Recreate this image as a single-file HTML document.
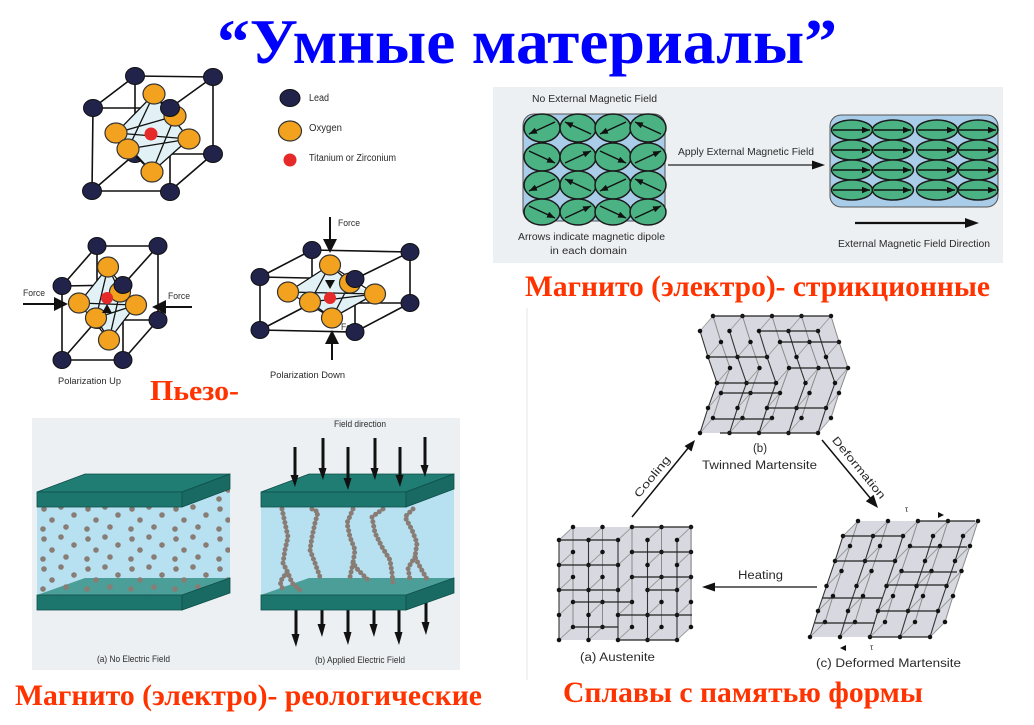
<!DOCTYPE html>
<html><head><meta charset="utf-8">
<style>
html,body{margin:0;padding:0;background:#fff;width:1034px;height:725px;overflow:hidden;}
svg{display:block;}
.s{font-family:"Liberation Sans",sans-serif;fill:#2a2a2a;}
.r{font-family:"Liberation Serif","Noto Serif CJK SC",serif;font-weight:bold;fill:#ff3300;}
</style></head><body>
<svg width="1034" height="725" viewBox="0 0 1034 725" xmlns="http://www.w3.org/2000/svg" xmlns:xlink="http://www.w3.org/1999/xlink">
<defs>
<marker id="m" viewBox="0 0 10 8" refX="10" refY="4" markerWidth="8" markerHeight="6.5" markerUnits="userSpaceOnUse" orient="auto"><path d="M0 0L10 4L0 8Z" fill="#111"/></marker>
<pattern id="dp" patternUnits="userSpaceOnUse" x="37" y="503" width="44" height="30">
<g fill="#887c74"><circle cx="7" cy="6" r="2.8"/><circle cx="24" cy="4" r="2.8"/><circle cx="37" cy="12" r="2.8"/><circle cx="15" cy="17" r="2.8"/><circle cx="29" cy="24" r="2.8"/><circle cx="6" cy="26" r="2.8"/></g></pattern>
<!-- twinned martensite column -->
<path id="tcol" d="M700 331L708 357L717 383L708 408L700 433" fill="none"/>
<path id="tcon" d="M700 331l13-15M708 357l13-15M717 383l13-15M708 408l13-15M700 433l13-15" fill="none"/>
<path id="tdot" d="M700 331h0M708 357h0M717 383h0M708 408h0M700 433h0" fill="none" stroke-width="4.5" stroke-linecap="round"/>
<g id="tg">
<use xlink:href="#tcol" transform="translate(13,-15)" stroke="#8a8a8a" stroke-width="1"/>
<use xlink:href="#tcon" stroke="#999" stroke-width="0.9"/>
<use xlink:href="#tcol" stroke="#333" stroke-width="1.1"/>
<use xlink:href="#tdot" transform="translate(13,-15)" stroke="#111"/>
<use xlink:href="#tdot" stroke="#111"/>
</g>
<!-- austenite column -->
<path id="acol" d="M559 540V640" fill="none"/>
<path id="acon" d="M559 540l14-13M559 565l14-13M559 590l14-13M559 615l14-13M559 640l14-13" fill="none"/>
<path id="adot" d="M559 540h0M559 565h0M559 590h0M559 615h0M559 640h0" fill="none" stroke-width="4.5" stroke-linecap="round"/>
<g id="ag">
<use xlink:href="#acol" transform="translate(14,-13)" stroke="#8a8a8a" stroke-width="1"/>
<use xlink:href="#acon" stroke="#999" stroke-width="0.9"/>
<use xlink:href="#acol" stroke="#333" stroke-width="1.1"/>
<use xlink:href="#adot" transform="translate(14,-13)" stroke="#111"/>
<use xlink:href="#adot" stroke="#111"/>
</g>
<!-- deformed martensite column -->
<path id="dcol" d="M843 536L835 561L826.5 586L818 611L810 637" fill="none"/>
<path id="dcon" d="M843 536l15-15M835 561l15-15M826.5 586l15-15M818 611l15-15M810 637l15-15" fill="none"/>
<path id="ddot" d="M843 536h0M835 561h0M826.5 586h0M818 611h0M810 637h0" fill="none" stroke-width="4.5" stroke-linecap="round"/>
<g id="dg">
<use xlink:href="#dcol" transform="translate(15,-15)" stroke="#8a8a8a" stroke-width="1"/>
<use xlink:href="#dcon" stroke="#999" stroke-width="0.9"/>
<use xlink:href="#dcol" stroke="#333" stroke-width="1.1"/>
<use xlink:href="#ddot" transform="translate(15,-15)" stroke="#111"/>
<use xlink:href="#ddot" stroke="#111"/>
</g>
</defs>

<rect width="1034" height="725" fill="#fff"/>

<!-- Title -->
<text x="217" y="63" font-family="Liberation Serif, serif" font-weight="bold" font-size="64" fill="#0000ff" textLength="620" lengthAdjust="spacingAndGlyphs">“Умные материалы”</text>

<!-- ================= Top perovskite cube ================= -->
<g stroke="#111" stroke-width="1.6" fill="none">
<path d="M135 76L213 77L213 154L135 154Z M93 108L170 108L170 191L92 191Z M93 108L135 76 M170 108L213 77 M170 191L213 154 M92 191L135 154"/>
</g>
<ellipse cx="213" cy="154" rx="9.5" ry="8.5" fill="#22234b" stroke="#111"/>
<ellipse cx="135" cy="76" rx="9.5" ry="8.5" fill="#22234b" stroke="#111"/>
<ellipse cx="213" cy="77" rx="9.5" ry="8.5" fill="#22234b" stroke="#111"/>
<ellipse cx="135" cy="154" rx="9.5" ry="8.5" fill="#22234b" stroke="#111"/>
<polygon points="154,94 175,116 189,139 152,172 128,149 116,133" fill="#e1f1f5"/>
<path d="M154 94L116 133M154 94L189 139M154 94L128 149M154 94L175 116M152 172L116 133M152 172L189 139M152 172L128 149M152 172L175 116M116 133L189 139M116 133L175 116M128 149L189 139" stroke="#111" stroke-width="1.3" fill="none"/>
<g fill="#f2a21e" stroke="#333" stroke-width="1.2">
<ellipse cx="175" cy="116" rx="11" ry="10"/>
<ellipse cx="154" cy="94" rx="11" ry="10"/>
<ellipse cx="189" cy="139" rx="11" ry="10"/>
<ellipse cx="116" cy="133" rx="11" ry="10"/>
<ellipse cx="152" cy="172" rx="11" ry="10"/>
</g>
<circle cx="151" cy="134" r="6.5" fill="#e62a2a"/>
<ellipse cx="128" cy="149" rx="11" ry="10" fill="#f2a21e" stroke="#333" stroke-width="1.2"/>
<g fill="#22234b" stroke="#111">
<ellipse cx="93" cy="108" rx="9.5" ry="8.5"/>
<ellipse cx="170" cy="108" rx="9.5" ry="8.5"/>
<ellipse cx="92" cy="191" rx="9.5" ry="8.5"/>
<ellipse cx="170" cy="192" rx="9.5" ry="8.5"/>
</g>
<!-- legend -->
<ellipse cx="290" cy="98" rx="10" ry="8.5" fill="#22234b" stroke="#111"/>
<ellipse cx="290" cy="131" rx="11.5" ry="10" fill="#f2a21e" stroke="#333" stroke-width="1.2"/>
<circle cx="290" cy="160" r="6.5" fill="#e62a2a"/>
<text class="s" x="309" y="101" font-size="10" textLength="20" lengthAdjust="spacingAndGlyphs">Lead</text>
<text class="s" x="309" y="131" font-size="10" textLength="33" lengthAdjust="spacingAndGlyphs">Oxygen</text>
<text class="s" x="309" y="161" font-size="10" textLength="87" lengthAdjust="spacingAndGlyphs">Titanium or Zirconium</text>

<!-- ================= Left piezo cube (Polarization Up) ================= -->
<path d="M97 246L158 246L158 320L97 320Z M62 286L123 285L123 360L62 360Z M62 286L97 246 M123 285L158 246 M123 360L158 320 M62 360L97 320" stroke="#111" stroke-width="1.6" fill="none"/>
<g fill="#22234b" stroke="#111">
<ellipse cx="97" cy="246" rx="9" ry="8.5"/><ellipse cx="158" cy="246" rx="9" ry="8.5"/><ellipse cx="158" cy="320" rx="9" ry="8.5"/><ellipse cx="97" cy="320" rx="9" ry="8.5"/>
</g>
<polygon points="108,267 120,292 136,305 109,340 96,318 79,303" fill="#e1f1f5"/>
<path d="M108 267L79 303M108 267L136 305M108 267L96 318M108 267L120 292M109 340L79 303M109 340L136 305M109 340L96 318M109 340L120 292M79 303L136 305M96 318L136 305" stroke="#111" stroke-width="1.3" fill="none"/>
<g fill="#f2a21e" stroke="#333" stroke-width="1.2">
<ellipse cx="120" cy="292" rx="10.5" ry="10"/><ellipse cx="108" cy="267" rx="10.5" ry="10"/><ellipse cx="136" cy="305" rx="10.5" ry="10"/><ellipse cx="79" cy="303" rx="10.5" ry="10"/><ellipse cx="109" cy="340" rx="10.5" ry="10"/>
</g>
<circle cx="107" cy="298" r="6" fill="#e62a2a"/>
<ellipse cx="96" cy="318" rx="10.5" ry="10" fill="#f2a21e" stroke="#333" stroke-width="1.2"/>
<polygon points="107,304 102,313 112,313" fill="#111"/>
<g fill="#22234b" stroke="#111">
<ellipse cx="62" cy="286" rx="9" ry="8.5"/><ellipse cx="123" cy="285" rx="9" ry="8.5"/><ellipse cx="62" cy="360" rx="9" ry="8.5"/><ellipse cx="123" cy="360" rx="9" ry="8.5"/>
</g>
<line x1="23" y1="304" x2="56" y2="304" stroke="#111" stroke-width="2"/>
<polygon points="68,304 54,297 54,311" fill="#111"/>
<line x1="192" y1="307" x2="164" y2="307" stroke="#111" stroke-width="2"/>
<polygon points="152,307 166,300 166,314" fill="#111"/>
<text class="s" x="23" y="296" font-size="9.5" textLength="22" lengthAdjust="spacingAndGlyphs">Force</text>
<text class="s" x="168" y="299" font-size="9.5" textLength="22" lengthAdjust="spacingAndGlyphs">Force</text>
<text class="s" x="58" y="384" font-size="9.5" textLength="63" lengthAdjust="spacingAndGlyphs">Polarization Up</text>

<!-- ================= Right piezo cube (Polarization Down) ================= -->
<path d="M312 250L410 252L410 303L312 303Z M260 277L355 279L355 332L260 330Z M260 277L312 250 M355 279L410 252 M355 332L410 303 M260 330L312 303" stroke="#111" stroke-width="1.6" fill="none"/>
<g fill="#22234b" stroke="#111">
<ellipse cx="312" cy="250" rx="9" ry="8.5"/><ellipse cx="410" cy="252" rx="9" ry="8.5"/><ellipse cx="312" cy="303" rx="9" ry="8.5"/>
</g>
<polygon points="330,265 350,283 375,294 332,318 310,302 288,292" fill="#e1f1f5"/>
<path d="M330 265L288 292M330 265L375 294M330 265L310 302M330 265L350 283M332 318L288 292M332 318L375 294M332 318L310 302M332 318L350 283M288 292L375 294M310 302L375 294" stroke="#111" stroke-width="1.3" fill="none"/>
<g fill="#f2a21e" stroke="#333" stroke-width="1.2">
<ellipse cx="350" cy="283" rx="10.5" ry="10"/><ellipse cx="330" cy="265" rx="10.5" ry="10"/><ellipse cx="375" cy="294" rx="10.5" ry="10"/><ellipse cx="288" cy="292" rx="10.5" ry="10"/><ellipse cx="332" cy="318" rx="10.5" ry="10"/>
</g>
<circle cx="330" cy="298" r="6" fill="#e62a2a"/>
<ellipse cx="310" cy="302" rx="10.5" ry="10" fill="#f2a21e" stroke="#333" stroke-width="1.2"/>
<polygon points="325,280 335,280 330,289" fill="#111"/>
<text class="s" x="341" y="330" font-size="9.5" textLength="22" lengthAdjust="spacingAndGlyphs">Force</text>
<g fill="#22234b" stroke="#111">
<ellipse cx="260" cy="277" rx="9" ry="8.5"/><ellipse cx="355" cy="279" rx="9" ry="8.5"/><ellipse cx="410" cy="303" rx="9" ry="8.5"/><ellipse cx="260" cy="330" rx="9" ry="8.5"/><ellipse cx="355" cy="332" rx="9" ry="8.5"/>
</g>
<line x1="330" y1="217" x2="330" y2="242" stroke="#111" stroke-width="2"/>
<polygon points="330,253 323,239 337,239" fill="#111"/>
<line x1="332" y1="360" x2="332" y2="342" stroke="#111" stroke-width="2"/>
<polygon points="332,330 325,344 339,344" fill="#111"/>
<text class="s" x="338" y="226" font-size="9.5" textLength="22" lengthAdjust="spacingAndGlyphs">Force</text>
<text class="s" x="270" y="378" font-size="9.5" textLength="75" lengthAdjust="spacingAndGlyphs">Polarization Down</text>

<text class="r" x="150" y="400" font-size="28" textLength="89" lengthAdjust="spacingAndGlyphs">Пьезо-</text>

<!-- ================= Magnetostriction panel ================= -->
<rect x="493" y="87" width="510" height="176" fill="#edf0f3"/>
<text class="s" x="532" y="102" font-size="10.5" textLength="125" lengthAdjust="spacingAndGlyphs">No External Magnetic Field</text>
<rect x="523" y="114" width="142" height="107" rx="11" fill="#a9cde9" stroke="#555" stroke-width="1"/>
<g fill="#4bb283" stroke="#1b1b1b" stroke-width="1.5">
<ellipse cx="542" cy="128" rx="18" ry="14"/><ellipse cx="578" cy="128" rx="18" ry="14"/><ellipse cx="613" cy="128" rx="18" ry="14"/><ellipse cx="648" cy="128" rx="18" ry="14"/>
<ellipse cx="542" cy="157" rx="18" ry="14"/><ellipse cx="578" cy="157" rx="18" ry="14"/><ellipse cx="613" cy="157" rx="18" ry="14"/><ellipse cx="648" cy="157" rx="18" ry="14"/>
<ellipse cx="542" cy="185" rx="18" ry="14"/><ellipse cx="578" cy="185" rx="18" ry="14"/><ellipse cx="613" cy="185" rx="18" ry="14"/><ellipse cx="648" cy="185" rx="18" ry="14"/>
<ellipse cx="542" cy="212" rx="18" ry="13"/><ellipse cx="578" cy="212" rx="18" ry="13"/><ellipse cx="613" cy="212" rx="18" ry="13"/><ellipse cx="648" cy="212" rx="18" ry="13"/>
</g>
<g stroke="#111" stroke-width="1.4" marker-end="url(#m)">
<line x1="555" y1="122" x2="529" y2="134"/><line x1="591" y1="134" x2="565" y2="122"/><line x1="626" y1="122" x2="600" y2="134"/><line x1="661" y1="134" x2="635" y2="122"/>
<line x1="529" y1="151" x2="555" y2="163"/><line x1="565" y1="163" x2="591" y2="151"/><line x1="600" y1="151" x2="626" y2="163"/><line x1="635" y1="163" x2="661" y2="151"/>
<line x1="555" y1="179" x2="529" y2="191"/><line x1="591" y1="191" x2="565" y2="179"/><line x1="626" y1="179" x2="600" y2="191"/><line x1="661" y1="191" x2="635" y2="179"/>
<line x1="529" y1="206" x2="555" y2="218"/><line x1="565" y1="218" x2="591" y2="206"/><line x1="600" y1="206" x2="626" y2="218"/><line x1="635" y1="218" x2="661" y2="206"/>
</g>
<text class="s" x="678" y="155" font-size="10.5" textLength="136" lengthAdjust="spacingAndGlyphs">Apply External Magnetic Field</text>
<line x1="668" y1="165" x2="815" y2="165" stroke="#222" stroke-width="1.3"/>
<polygon points="825,165 812,160.5 812,169.5" fill="#111"/>
<text class="s" x="518" y="240" font-size="10.5" textLength="147" lengthAdjust="spacingAndGlyphs">Arrows indicate magnetic dipole</text>
<text class="s" x="550" y="254" font-size="10.5" textLength="77" lengthAdjust="spacingAndGlyphs">in each domain</text>
<rect x="830" y="115" width="168" height="92" rx="11" fill="#a9cde9" stroke="#555" stroke-width="1"/>
<g fill="#4bb283" stroke="#1b1b1b" stroke-width="1.5">
<ellipse cx="852" cy="130" rx="20.5" ry="10"/><ellipse cx="893" cy="130" rx="20.5" ry="10"/><ellipse cx="937" cy="130" rx="20.5" ry="10"/><ellipse cx="978" cy="130" rx="20" ry="10"/>
<ellipse cx="852" cy="150" rx="20.5" ry="10"/><ellipse cx="893" cy="150" rx="20.5" ry="10"/><ellipse cx="937" cy="150" rx="20.5" ry="10"/><ellipse cx="978" cy="150" rx="20" ry="10"/>
<ellipse cx="852" cy="170" rx="20.5" ry="10"/><ellipse cx="893" cy="170" rx="20.5" ry="10"/><ellipse cx="937" cy="170" rx="20.5" ry="10"/><ellipse cx="978" cy="170" rx="20" ry="10"/>
<ellipse cx="852" cy="190" rx="20.5" ry="10"/><ellipse cx="893" cy="190" rx="20.5" ry="10"/><ellipse cx="937" cy="190" rx="20.5" ry="10"/><ellipse cx="978" cy="190" rx="20" ry="10"/>
</g>
<g stroke="#111" stroke-width="1.4" marker-end="url(#m)">
<line x1="833" y1="130" x2="870" y2="130"/><line x1="874" y1="130" x2="911" y2="130"/><line x1="918" y1="130" x2="955" y2="130"/><line x1="959" y1="130" x2="996" y2="130"/>
<line x1="833" y1="150" x2="870" y2="150"/><line x1="874" y1="150" x2="911" y2="150"/><line x1="918" y1="150" x2="955" y2="150"/><line x1="959" y1="150" x2="996" y2="150"/>
<line x1="833" y1="170" x2="870" y2="170"/><line x1="874" y1="170" x2="911" y2="170"/><line x1="918" y1="170" x2="955" y2="170"/><line x1="959" y1="170" x2="996" y2="170"/>
<line x1="833" y1="190" x2="870" y2="190"/><line x1="874" y1="190" x2="911" y2="190"/><line x1="918" y1="190" x2="955" y2="190"/><line x1="959" y1="190" x2="996" y2="190"/>
</g>
<line x1="855" y1="223" x2="966" y2="223" stroke="#111" stroke-width="2.2"/>
<polygon points="979,223 965,218 965,228" fill="#111"/>
<text class="s" x="838" y="247" font-size="10.5" textLength="152" lengthAdjust="spacingAndGlyphs">External Magnetic Field Direction</text>

<text class="r" x="525" y="296" font-size="30" textLength="465" lengthAdjust="spacingAndGlyphs">Магнито (электро)- стрикционные</text>

<!-- ================= MR fluid panel ================= -->
<rect x="32" y="418" width="428" height="252" fill="#edf0f3"/>
<!-- left -->
<polygon points="37,507 182,507 230,489 230,578 182,595 37,595" fill="#b7e0f1"/>
<polygon points="37,595 85,578 230,578 182,595" fill="#4c9e98"/>
<polygon points="37,505 182,505 230,487 230,585 182,597 37,597" fill="url(#dp)"/>
<rect x="37" y="595" width="145" height="15" fill="#1d766e" stroke="#0f4f4a" stroke-width="0.8"/>
<polygon points="182,595 230,578 230,593 182,610" fill="#186a63" stroke="#0f4f4a" stroke-width="0.8"/>
<polygon points="37,492 85,474 230,474 182,492" fill="#1f7d74" stroke="#0f4f4a" stroke-width="0.8"/>
<rect x="37" y="492" width="145" height="15" fill="#1d766e" stroke="#0f4f4a" stroke-width="0.8"/>
<polygon points="182,492 230,474 230,489 182,507" fill="#186a63" stroke="#0f4f4a" stroke-width="0.8"/>
<!-- right -->
<g transform="translate(224,0)">
<polygon points="37,507 182,507 230,489 230,578 182,595 37,595" fill="#b7e0f1"/>
<polygon points="37,595 85,578 230,578 182,595" fill="#4c9e98"/>
</g>
<g fill="none" stroke="#887c74" stroke-width="5" stroke-dasharray="0 4.6" stroke-linecap="round">
<polyline points="282,509 285,523 288,537 285,550 283,563 288,573 292,583 302,592"/>
<polyline points="287,572 280,582 283,590"/>
<polyline points="312,509 318,512 315,523 312,537 310,550 315,563 320,577"/>
<polyline points="353,509 347,523 350,537 355,550 353,563 358,570 368,580"/>
<polyline points="353,563 350,577"/>
<polyline points="383,509 372,517 375,533 382,547 390,560 392,573 393,584"/>
<polyline points="413,509 405,517 412,530 417,543 415,557 420,567 428,581"/>
<polyline points="415,557 408,568 410,580"/>
</g>
<g fill="#111">
<rect x="294.5" y="604" width="3" height="32"/><polygon points="291.5,634 299.5,634 296,647"/>
<rect x="320.5" y="604" width="3" height="22"/><polygon points="317.5,624 325.5,624 322,637"/>
<rect x="346.5" y="604" width="3" height="30"/><polygon points="343.5,632 351.5,632 348,645"/>
<rect x="372.5" y="604" width="3" height="22"/><polygon points="369.5,624 377.5,624 374,637"/>
<rect x="397.5" y="604" width="3" height="30"/><polygon points="394.5,632 402.5,632 399,645"/>
<rect x="424.5" y="596" width="3" height="28"/><polygon points="421.5,622 429.5,622 426,635"/>
</g>
<g transform="translate(224,0)">
<rect x="37" y="595" width="145" height="15" fill="#1d766e" stroke="#0f4f4a" stroke-width="0.8"/>
<polygon points="182,595 230,578 230,593 182,610" fill="#186a63" stroke="#0f4f4a" stroke-width="0.8"/>
<polygon points="37,492 85,474 230,474 182,492" fill="#1f7d74" stroke="#0f4f4a" stroke-width="0.8"/>
<rect x="37" y="492" width="145" height="15" fill="#1d766e" stroke="#0f4f4a" stroke-width="0.8"/>
<polygon points="182,492 230,474 230,489 182,507" fill="#186a63" stroke="#0f4f4a" stroke-width="0.8"/>
</g>
<g fill="#111">
<rect x="293.5" y="447" width="3" height="29"/><polygon points="290.5,475 298.5,475 295,487"/>
<rect x="321.5" y="438" width="3" height="31"/><polygon points="318.5,468 326.5,468 323,480"/>
<rect x="346.5" y="447" width="3" height="32"/><polygon points="343.5,478 351.5,478 348,490"/>
<rect x="373.5" y="438" width="3" height="31"/><polygon points="370.5,468 378.5,468 375,480"/>
<rect x="398.5" y="447" width="3" height="29"/><polygon points="395.5,475 403.5,475 400,487"/>
<rect x="423.5" y="437" width="3" height="29"/><polygon points="420.5,465 428.5,465 425,477"/>
</g>
<text class="s" x="334" y="427" font-size="9.5" textLength="52" lengthAdjust="spacingAndGlyphs">Field direction</text>
<text class="s" x="97" y="662" font-size="9.5" textLength="73" lengthAdjust="spacingAndGlyphs">(a) No Electric Field</text>
<text class="s" x="315" y="663" font-size="9.5" textLength="90" lengthAdjust="spacingAndGlyphs">(b) Applied Electric Field</text>

<text class="r" x="15" y="705" font-size="30" textLength="467" lengthAdjust="spacingAndGlyphs">Магнито (электро)- реологические</text>

<!-- ================= Shape memory alloys ================= -->
<line x1="527" y1="308" x2="527" y2="680" stroke="#e6e6e6" stroke-width="1"/>
<!-- twinned martensite -->
<polygon points="700,331 713,316 831,316 848,368 831,418 818,433 700,433 717,383" fill="#d8d8e0"/>
<use xlink:href="#tg"/>
<use xlink:href="#tg" x="29.5"/>
<use xlink:href="#tg" x="59"/>
<use xlink:href="#tg" x="88.5"/>
<use xlink:href="#tg" x="118"/>
<path d="M760 331H818M782 342H840M789 368H848M768 408H826M708 357H768M717 383H775M722 393H780M715 419H773M720 433H818M713 316H831" stroke="#222" stroke-width="1.3" fill="none"/>
<text class="s" x="760" y="452" font-size="11.5" text-anchor="middle">(b)</text>
<text class="s" x="702" y="469" font-size="11.5" textLength="115" lengthAdjust="spacingAndGlyphs">Twinned Martensite</text>
<!-- cooling -->
<line x1="632" y1="517" x2="689" y2="447" stroke="#111" stroke-width="1.5"/>
<polygon points="695,440 691.5,451.5 684.5,446" fill="#111"/>
<text class="s" transform="translate(655,479) rotate(-50.7)" font-size="11" text-anchor="middle" textLength="50" lengthAdjust="spacingAndGlyphs">Cooling</text>
<!-- deformation -->
<line x1="822" y1="440" x2="871" y2="499" stroke="#111" stroke-width="1.5"/>
<polygon points="878,508 873.6,494.8 865.8,501.2" fill="#111"/>
<text class="s" transform="translate(856,470) rotate(50.5)" font-size="11" text-anchor="middle" textLength="77" lengthAdjust="spacingAndGlyphs">Deformation</text>
<!-- austenite -->
<polygon points="559,540 573,527 692,527 692,627 677,640 559,640" fill="#d8d8e0"/>
<use xlink:href="#ag"/>
<use xlink:href="#ag" x="29.5"/>
<use xlink:href="#ag" x="59"/>
<use xlink:href="#ag" x="88.5"/>
<use xlink:href="#ag" x="118"/>
<path d="M559 540H618M559 565H618M559 590H618M573 602H632M573 627H618M632 527H692M632 552H692M632 577H692M618 615H692M618 640H677M647 590H677" stroke="#222" stroke-width="1.3" fill="none"/>
<text class="s" x="580" y="661" font-size="11.5" textLength="75" lengthAdjust="spacingAndGlyphs">(a) Austenite</text>
<!-- heating -->
<line x1="817" y1="587" x2="712" y2="587" stroke="#111" stroke-width="1.3"/>
<polygon points="702,587 715,582.5 715,591.5" fill="#111"/>
<text class="s" x="738" y="579" font-size="11.5" textLength="45" lengthAdjust="spacingAndGlyphs">Heating</text>
<!-- deformed martensite -->
<polygon points="810,637 843,536 858,521 978,521 945,622 930,637" fill="#d8d8e0"/>
<use xlink:href="#dg"/>
<use xlink:href="#dg" x="30"/>
<use xlink:href="#dg" x="60"/>
<use xlink:href="#dg" x="90"/>
<use xlink:href="#dg" x="120"/>
<path d="M843 536H903M835 561H895M822 598H882M815 623H875M917 521H975M910 547H967M900 572H957M886 585H947M878 611H937M868 637H930" stroke="#222" stroke-width="1.3" fill="none"/>
<text class="s" x="905" y="512" font-size="8">τ</text>
<polygon points="938,512 944,515 938,518" fill="#111"/>
<text class="s" x="870" y="650" font-size="8">τ</text>
<polygon points="846,645 840,648 846,651" fill="#111"/>
<text class="s" x="816" y="667" font-size="11.5" textLength="145" lengthAdjust="spacingAndGlyphs">(c) Deformed Martensite</text>

<text class="r" x="563" y="702" font-size="30" textLength="360" lengthAdjust="spacingAndGlyphs">Сплавы с памятью формы</text>
</svg>
</body></html>
